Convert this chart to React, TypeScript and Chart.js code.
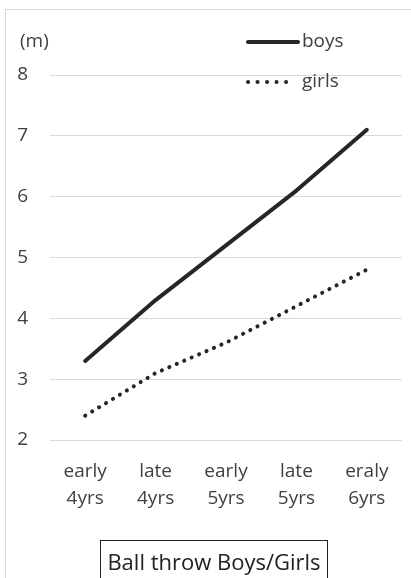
import React, { useEffect, useRef } from "react";
import { Chart, registerables } from "chart.js";

Chart.register(...registerables);

const categories: string[][] = [
  ["early", "4yrs"],
  ["late", "4yrs"],
  ["early", "5yrs"],
  ["late", "5yrs"],
  ["eraly", "6yrs"],
];
const boys: number[] = [3.3, 4.3, 5.2, 6.1, 7.1];
const girls: number[] = [2.4, 3.1, 3.6, 4.2, 4.8];
const yMin = 2;
const yMax = 8;
const unitLabel = "(m)";
const chartTitle = "Ball throw Boys/Girls";

const FONT = "'Open Sans', 'DejaVu Sans', sans-serif";
const TEXT = "#404040";
const GRID = "#d9d9d9";
const LINE = "#262626";

const W = 411;
const H = 578;

const decorPlugin = {
  id: "decor",
  afterDraw(chart: any) {
    const ctx = chart.ctx as CanvasRenderingContext2D;
    ctx.save();
    // outer frame (top & left visible)
    ctx.strokeStyle = GRID;
    ctx.lineWidth = 1;
    ctx.beginPath();
    ctx.moveTo(5.5, H);
    ctx.lineTo(5.5, 9.5);
    ctx.lineTo(W, 9.5);
    ctx.stroke();

    // unit label
    ctx.fillStyle = TEXT;
    ctx.font = `19px ${FONT}`;
    ctx.textBaseline = "middle";
    ctx.textAlign = "left";
    ctx.fillText(unitLabel, 20, 42);

    // legend
    const items = chart.data.datasets;
    const ys = [42, 82];
    items.forEach((ds: any, i: number) => {
      const y = ys[i];
      const dashed = ds.borderDash && ds.borderDash.length;
      ctx.save();
      ctx.strokeStyle = ds.borderColor;
      ctx.lineWidth = ds.borderWidth;
      ctx.lineCap = "round";
      ctx.setLineDash(dashed ? [0.1, 9.4] : []);
      ctx.beginPath();
      ctx.moveTo(248, y);
      ctx.lineTo(dashed ? 295 : 298, y);
      ctx.stroke();
      ctx.restore();
      ctx.fillStyle = TEXT;
      ctx.font = `19px ${FONT}`;
      ctx.textBaseline = "middle";
      ctx.textAlign = "left";
      ctx.fillText(ds.label, 302, y);
    });

    // title box
    ctx.font = `22px ${FONT}`;
    const tw = ctx.measureText(chartTitle).width;
    const cx = 214;
    const bx = Math.round(cx - tw / 2 - 7) + 0.5;
    const bw = Math.round(tw + 14);
    ctx.strokeStyle = "#222";
    ctx.lineWidth = 1;
    ctx.strokeRect(bx, 540.5, bw, 60);
    ctx.fillStyle = "#222";
    ctx.textAlign = "center";
    ctx.textBaseline = "middle";
    ctx.fillText(chartTitle, cx, 564);
    ctx.restore();
  },
};

export default function App() {
  const ref = useRef<HTMLCanvasElement | null>(null);
  useEffect(() => {
    if (!ref.current) return;
    const chart = new Chart(ref.current, {
      type: "line",
      data: {
        labels: categories,
        datasets: [
          {
            label: "boys",
            data: boys,
            borderColor: LINE,
            backgroundColor: LINE,
            borderWidth: 4,
            borderCapStyle: "round",
            borderJoinStyle: "round",
            pointRadius: 0,
            tension: 0,
          },
          {
            label: "girls",
            data: girls,
            borderColor: LINE,
            backgroundColor: LINE,
            borderWidth: 4,
            borderCapStyle: "round",
            borderDash: [0.1, 8],
            pointRadius: 0,
            tension: 0,
          },
        ],
      },
      plugins: [decorPlugin],
      options: {
        animation: false,
        responsive: false,
        maintainAspectRatio: false,
        devicePixelRatio: 1,
        layout: { padding: { left: 5, top: 75, right: 9, bottom: 0 } },
        plugins: {
          legend: { display: false },
          tooltip: { enabled: false },
          title: { display: false },
        },
        scales: {
          x: {
            offset: true,
            grid: { display: false, drawTicks: false },
            border: { display: false },
            ticks: {
              color: TEXT,
              font: { family: FONT, size: 19, lineHeight: 1.42 },
              padding: 18,
              maxRotation: 0,
              autoSkip: false,
            },
            afterFit(scale: any) {
              scale.height = H - 440;
            },
          },
          y: {
            min: yMin,
            max: yMax,
            grid: { color: GRID, lineWidth: 1, drawTicks: false },
            border: { display: false },
            ticks: {
              stepSize: 1,
              color: TEXT,
              font: { family: FONT, size: 19 },
              padding: 22,
            },
            afterFit(scale: any) {
              scale.width = 45;
            },
          },
        },
      },
    } as any);
    return () => chart.destroy();
  }, []);
  return (
    <div style={{ position: "fixed", left: 0, top: 0, width: W, height: H, background: "#fff" }}>
      <canvas ref={ref} width={W} height={H} style={{ width: W, height: H, display: "block" }} />
    </div>
  );
}
